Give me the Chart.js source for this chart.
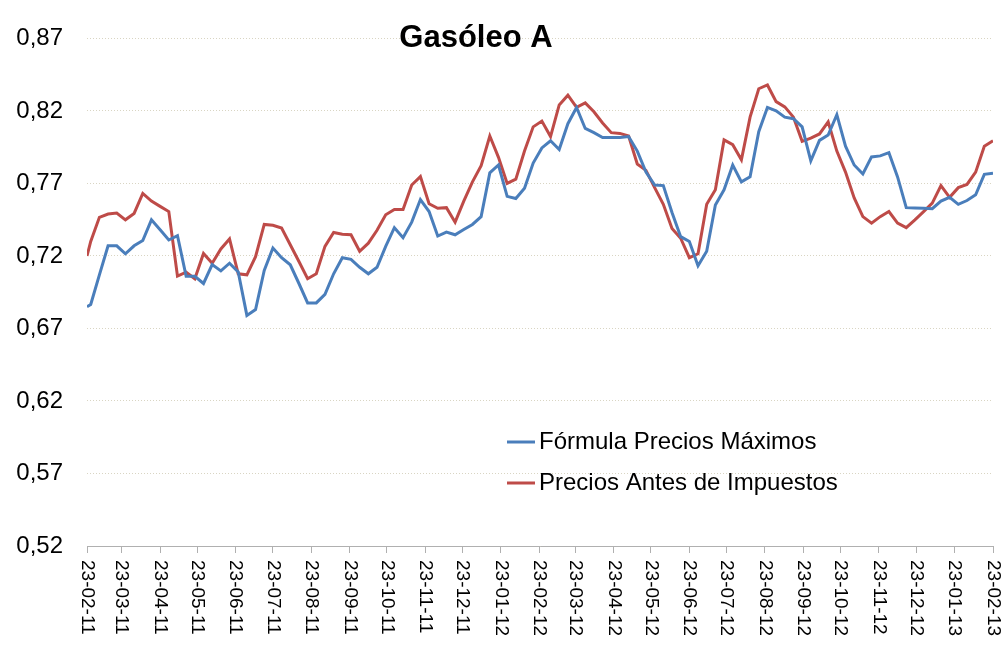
<!DOCTYPE html>
<html>
<head>
<meta charset="utf-8">
<script src="https://cdn.jsdelivr.net/npm/chart.js@4.4.0/dist/chart.umd.min.js"></script>
<style>
  html, body { margin: 0; padding: 0; background: #fff; }
</style>
</head>
<body>
<canvas id="chart" width="1005" height="648"></canvas>
<script>
// Datos (semanales)
const titulo = 'Gasóleo A';
const series = ['Fórmula Precios Máximos', 'Precios Antes de Impuestos'];

const formulaPrecios = [
  0.685, 0.6865, 0.707, 0.727, 0.727, 0.7215, 0.727, 0.7306, 0.7449, 0.738,
  0.731, 0.734, 0.706, 0.706, 0.701, 0.714, 0.7097, 0.715, 0.709, 0.679,
  0.683, 0.710, 0.7255, 0.7188, 0.7139, 0.701, 0.6876, 0.6876, 0.6935, 0.7077,
  0.7188, 0.7177, 0.7122, 0.7077, 0.7122, 0.7266, 0.7395, 0.7326, 0.7433, 0.7589,
  0.7506, 0.7337, 0.7364, 0.7346, 0.7382, 0.7417, 0.7471, 0.7773, 0.7827, 0.7611,
  0.7596, 0.7667, 0.784, 0.7945, 0.7994, 0.7934, 0.8112, 0.8224, 0.8079, 0.805,
  0.8017, 0.8017, 0.8017, 0.8023, 0.7923, 0.7778, 0.7689, 0.7685, 0.750, 0.7333,
  0.730, 0.7132, 0.7232, 0.7551, 0.7656, 0.7827, 0.7711, 0.7745, 0.8057, 0.8224,
  0.8201, 0.8157, 0.8146, 0.809, 0.7856, 0.7997, 0.8034, 0.8174, 0.7957, 0.7827,
  0.7765, 0.7883, 0.789, 0.7912, 0.7745, 0.7533, 0.7531, 0.7529, 0.7526, 0.7578,
  0.7604, 0.7556, 0.7582, 0.7622, 0.7763, 0.777
];

const preciosAntes = [
  0.720, 0.730, 0.7466, 0.7489, 0.7496, 0.7449, 0.7493, 0.7631, 0.7578, 0.7542,
  0.7506, 0.7061, 0.7088, 0.7043, 0.7217, 0.715, 0.7248, 0.7317, 0.7077, 0.707,
  0.7195, 0.7417, 0.7411, 0.7393, 0.7277, 0.7162, 0.7043, 0.7077, 0.7266, 0.7362,
  0.7349, 0.7346, 0.7232, 0.7288, 0.7377, 0.7484, 0.752, 0.752, 0.7689, 0.7747,
  0.756, 0.7529, 0.7533, 0.7433, 0.7578, 0.7711, 0.7823, 0.8027, 0.788, 0.770,
  0.7729, 0.7923, 0.809, 0.813, 0.8023, 0.8241, 0.8308, 0.8224, 0.8255, 0.8194,
  0.8117, 0.805, 0.8045, 0.8027, 0.7834, 0.779, 0.7671, 0.7556, 0.7389, 0.7322,
  0.7188, 0.7215, 0.7556, 0.7656, 0.800, 0.7967, 0.7863, 0.8157, 0.8353, 0.8379,
  0.8264, 0.8228, 0.8157, 0.799, 0.8012, 0.8041, 0.8124, 0.7923, 0.7778, 0.760,
  0.7471, 0.7426, 0.7471, 0.7506, 0.7426, 0.7395, 0.7449, 0.7506, 0.7564, 0.7685,
  0.7604, 0.7671, 0.7693, 0.7778, 0.7957, 0.7994
];

// Etiquetas del eje X (dd-mm-aa) y del eje Y
const xTickLabels = [
  '23-02-11', '23-03-11', '23-04-11', '23-05-11', '23-06-11', '23-07-11', '23-08-11',
  '23-09-11', '23-10-11', '23-11-11', '23-12-11', '23-01-12', '23-02-12', '23-03-12',
  '23-04-12', '23-05-12', '23-06-12', '23-07-12', '23-08-12', '23-09-12', '23-10-12',
  '23-11-12', '23-12-12', '23-01-13', '23-02-13'
];
const yTicks = [0.52, 0.57, 0.62, 0.67, 0.72, 0.77, 0.82, 0.87];

// Fechas de los datos: primer dato el 23-02-11, luego semanal desde el 26-02-11
const primerDato = '23-02-11';
const primeraSemana = '26-02-11';

const FONT = "'Liberation Sans', Arial, sans-serif";
const AZUL = '#4A7EBB';
const ROJO = '#BE4B48';

function toDay(label) {
  const [d, m, y] = label.split('-').map(Number);
  return Date.UTC(2000 + y, m - 1, d) / 86400000;
}
const base = toDay(primerDato);
const tickDays = xTickLabels.map(l => toDay(l) - base);
const offsetSemana = toDay(primeraSemana) - base;
const diasDatos = formulaPrecios.map((v, i) => i === 0 ? 0 : offsetSemana + 7 * (i - 1));

// Título, leyenda y etiquetas X giradas
const extras = {
  id: 'extras',
  afterDraw(chart) {
    const c = chart.ctx;
    const xs = chart.scales.x;
    c.save();
    c.fillStyle = '#000';
    c.font = 'bold 31px ' + FONT;
    c.textAlign = 'center';
    c.textBaseline = 'alphabetic';
    c.fillText(titulo, 476, 47);

    // etiquetas del eje X, leídas de arriba abajo
    c.font = '19px ' + FONT;
    c.textAlign = 'left';
    c.textBaseline = 'middle';
    xs.ticks.forEach((t, i) => {
      const x = xs.getPixelForValue(t.value);
      c.save();
      c.translate(x, 560);
      c.rotate(Math.PI / 2);
      c.fillText(xTickLabels[i], 0, 0);
      c.restore();
    });

    // leyenda
    c.font = '24px ' + FONT;
    chart.data.datasets.forEach((ds, i) => {
      const y = 442 + i * 41;
      c.strokeStyle = ds.borderColor;
      c.lineWidth = 3;
      c.beginPath();
      c.moveTo(507, y);
      c.lineTo(535, y);
      c.stroke();
      c.fillText(ds.label, 539, y);
    });
    c.restore();
  }
};

const ctx = document.getElementById('chart').getContext('2d');
const chart = new Chart(ctx, {
  type: 'line',
  data: {
    datasets: [
      {
        label: series[0],
        data: formulaPrecios.map((v, i) => ({ x: diasDatos[i], y: v })),
        borderColor: AZUL,
        borderWidth: 3,
        pointRadius: 0,
        tension: 0,
        fill: false
      },
      {
        label: series[1],
        data: preciosAntes.map((v, i) => ({ x: diasDatos[i], y: v })),
        borderColor: ROJO,
        borderWidth: 3,
        pointRadius: 0,
        tension: 0,
        fill: false
      }
    ]
  },
  options: {
    responsive: false,
    animation: false,
    layout: { padding: { top: 22, right: 12, left: 0, bottom: 0 } },
    plugins: {
      legend: { display: false },
      title: { display: false },
      tooltip: { enabled: false }
    },
    scales: {
      x: {
        type: 'linear',
        min: 0,
        max: tickDays[tickDays.length - 1],
        afterBuildTicks: s => { s.ticks = tickDays.map(v => ({ value: v })); },
        afterFit: s => { s.height = 102; },
        ticks: { display: false },
        grid: { drawOnChartArea: false, drawTicks: true, tickLength: 7, color: '#b0b0b0' },
        border: { display: true, color: '#b0b0b0', width: 1 }
      },
      y: {
        min: 0.52,
        max: 0.87,
        afterBuildTicks: s => { s.ticks = yTicks.map(v => ({ value: v })); },
        afterFit: s => { s.width = 87; },
        ticks: {
          padding: 24,
          color: '#000',
          font: { family: FONT, size: 24 },
          callback: v => v.toFixed(2).replace('.', ',')
        },
        grid: { drawTicks: false, color: '#d9d5c3', lineWidth: 1 },
        border: { display: false, dash: [1, 2] }
      }
    }
  },
  plugins: [extras]
});
</script>
</body>
</html>
